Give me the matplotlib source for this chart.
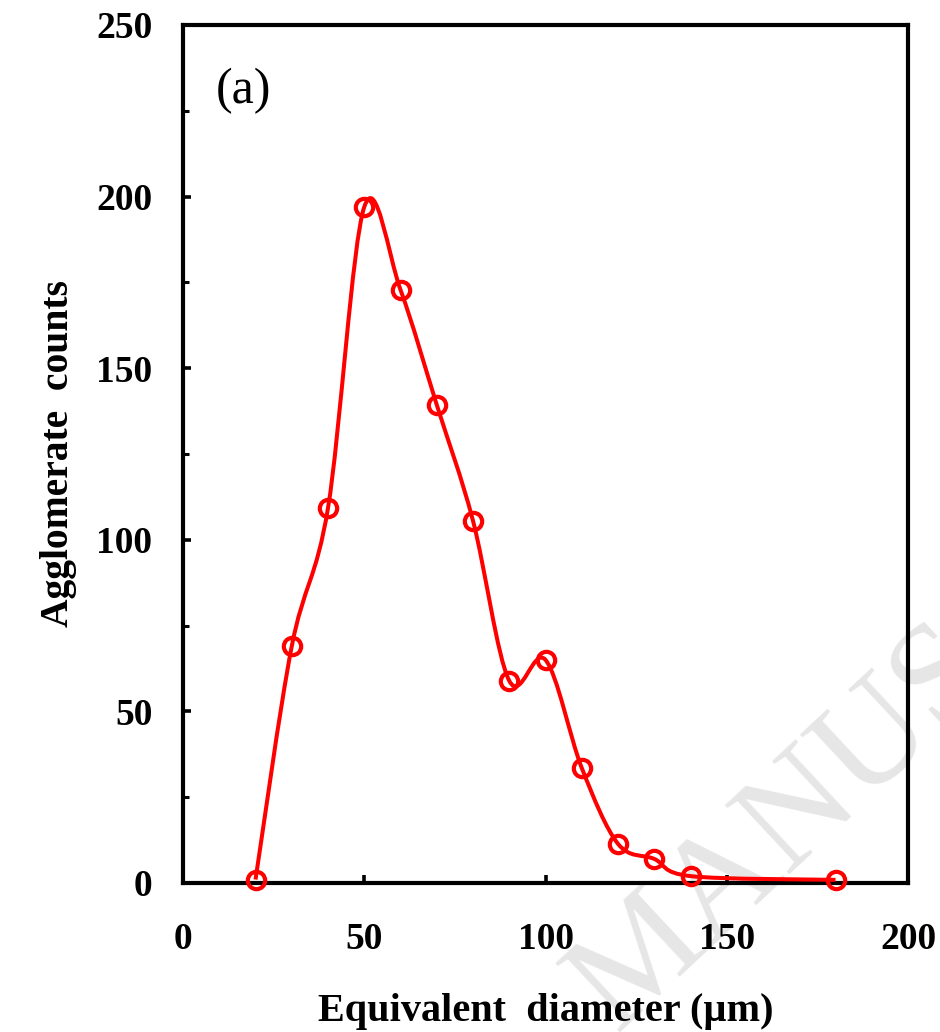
import matplotlib
matplotlib.use('Agg')
import matplotlib.pyplot as plt
import numpy as np
from matplotlib.path import Path
from matplotlib.patches import PathPatch
from matplotlib.ticker import MultipleLocator

# equivalent diameter (um) and agglomerate counts
diameter = [20, 30, 40, 50, 60, 70, 80, 90, 100, 110, 120, 130, 140, 180]
counts = [1, 69, 109.3, 197, 172.8, 139.3, 105.5, 58.9, 65, 33.5, 11.4, 7, 2, 0.9]

plt.rcParams['font.family'] = ['Liberation Serif', 'DejaVu Serif']

fig = plt.figure(figsize=(9.4, 10.32), dpi=100)
ax = fig.add_axes([0.1947, 0.1444, 0.7713, 0.8314])
ax.patch.set_alpha(0)
ax.set_zorder(2)

# watermark, behind everything
fig.text(0.655, 0.0, 'MANUSCRIPT', fontsize=104, color='#e6e6e6',
         rotation=43, rotation_mode='anchor', ha='left', va='baseline', zorder=-5)

ax.set_xlim(0, 200)
ax.set_ylim(0, 250)


# Excel-like smoothed line (Catmull-Rom bezier in screen space)
def smooth_path(xs, ys):
    trans = ax.transData
    pts = trans.transform(np.column_stack([xs, ys]))
    n = len(pts)
    verts = [pts[0]]
    codes = [Path.MOVETO]
    for i in range(n - 1):
        p0 = pts[i - 1] if i > 0 else pts[i]
        p1 = pts[i]
        p2 = pts[i + 1]
        p3 = pts[i + 2] if i + 2 < n else pts[i + 1]
        c1 = p1 + (p2 - p0) / 6.0
        c2 = p2 - (p3 - p1) / 6.0
        verts += [c1, c2, p2]
        codes += [Path.CURVE4] * 3
    verts = trans.inverted().transform(np.array(verts))
    return Path(verts, codes)


ax.add_patch(PathPatch(smooth_path(diameter, counts), fill=False,
                       edgecolor='#ff0000', lw=2.9, zorder=3))
ax.plot(diameter, counts, 'o', ms=12.5, mfc='none', mec='#ff0000', mew=3.0,
        zorder=4, clip_on=False)

for s in ax.spines.values():
    s.set_linewidth(3.0)

ax.xaxis.set_major_locator(MultipleLocator(50))
ax.yaxis.set_major_locator(MultipleLocator(50))
ax.yaxis.set_minor_locator(MultipleLocator(25))
ax.tick_params(axis='both', which='major', direction='in', length=6, width=2.6,
               labelsize=27)
ax.tick_params(axis='x', pad=28)
ax.tick_params(axis='y', pad=22)
ax.tick_params(axis='y', which='minor', direction='in', length=4, width=2.2)
for lab in ax.get_xticklabels() + ax.get_yticklabels():
    lab.set_fontweight('bold')

ax.set_xlabel('Equivalent  diameter (\u00b5m)', fontsize=29, fontweight='bold',
              labelpad=26)
ax.set_ylabel('Agglomerate  counts', fontsize=28.5, fontweight='bold', labelpad=14)

ax.text(0.045, 0.95, '(a)', transform=ax.transAxes, fontsize=36,
        ha='left', va='top')

fig.savefig('out.png', dpi=100)
